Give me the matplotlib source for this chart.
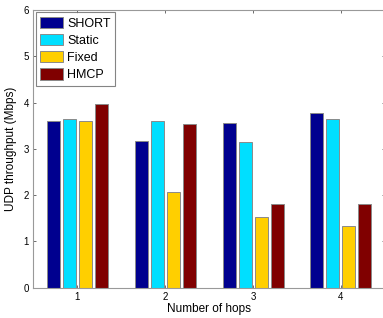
import numpy as np
import matplotlib.pyplot as plt

plt.rcParams["font.family"] = ["Liberation Sans", "DejaVu Sans"]

hops = [1, 2, 3, 4]
series = ["SHORT", "Static", "Fixed", "HMCP"]
short = [3.61, 3.17, 3.55, 3.77]
static = [3.64, 3.59, 3.15, 3.65]
fixed = [3.59, 2.06, 1.53, 1.34]
hmcp = [3.96, 3.53, 1.80, 1.80]
colors = ["#00008F", "#00DFFF", "#FFCF00", "#800000"]

fig = plt.figure(figsize=(3.83, 3.18), dpi=100)
ax = fig.add_axes([0.087, 0.095, 0.918, 0.874])

x = np.array(hops, dtype=float)
step = 0.182
for i, (vals, c) in enumerate(zip([short, static, fixed, hmcp], colors)):
    ax.bar(x + (i - 1.5) * step, vals, width=0.148, color=c,
           edgecolor="#8a8a8a", linewidth=0.7, label=series[i])

ax.set_xlim(0.5, 4.5)
ax.set_ylim(0, 6)
ax.set_xticks(hops)
ax.set_yticks(range(0, 7))
ax.tick_params(direction="in", length=2.5, width=0.6, labelsize=7,
               top=True, right=True, colors="#555555", labelcolor="black", pad=3)
for s in ax.spines.values():
    s.set_color("#999999")
    s.set_linewidth(0.8)

ax.set_xlabel("Number of hops", fontsize=8.5, labelpad=1)
ax.set_ylabel("UDP throughput (Mbps)", fontsize=8.5, labelpad=5)

leg = ax.legend(loc="upper left", fontsize=9, frameon=True, fancybox=False,
                borderpad=0.35, labelspacing=0.35, handlelength=1.85,
                handleheight=1.0, handletextpad=0.3, borderaxespad=0.2)
leg.get_frame().set_edgecolor("#666666")
leg.get_frame().set_linewidth(0.8)

plt.savefig("out.png", dpi=100)
